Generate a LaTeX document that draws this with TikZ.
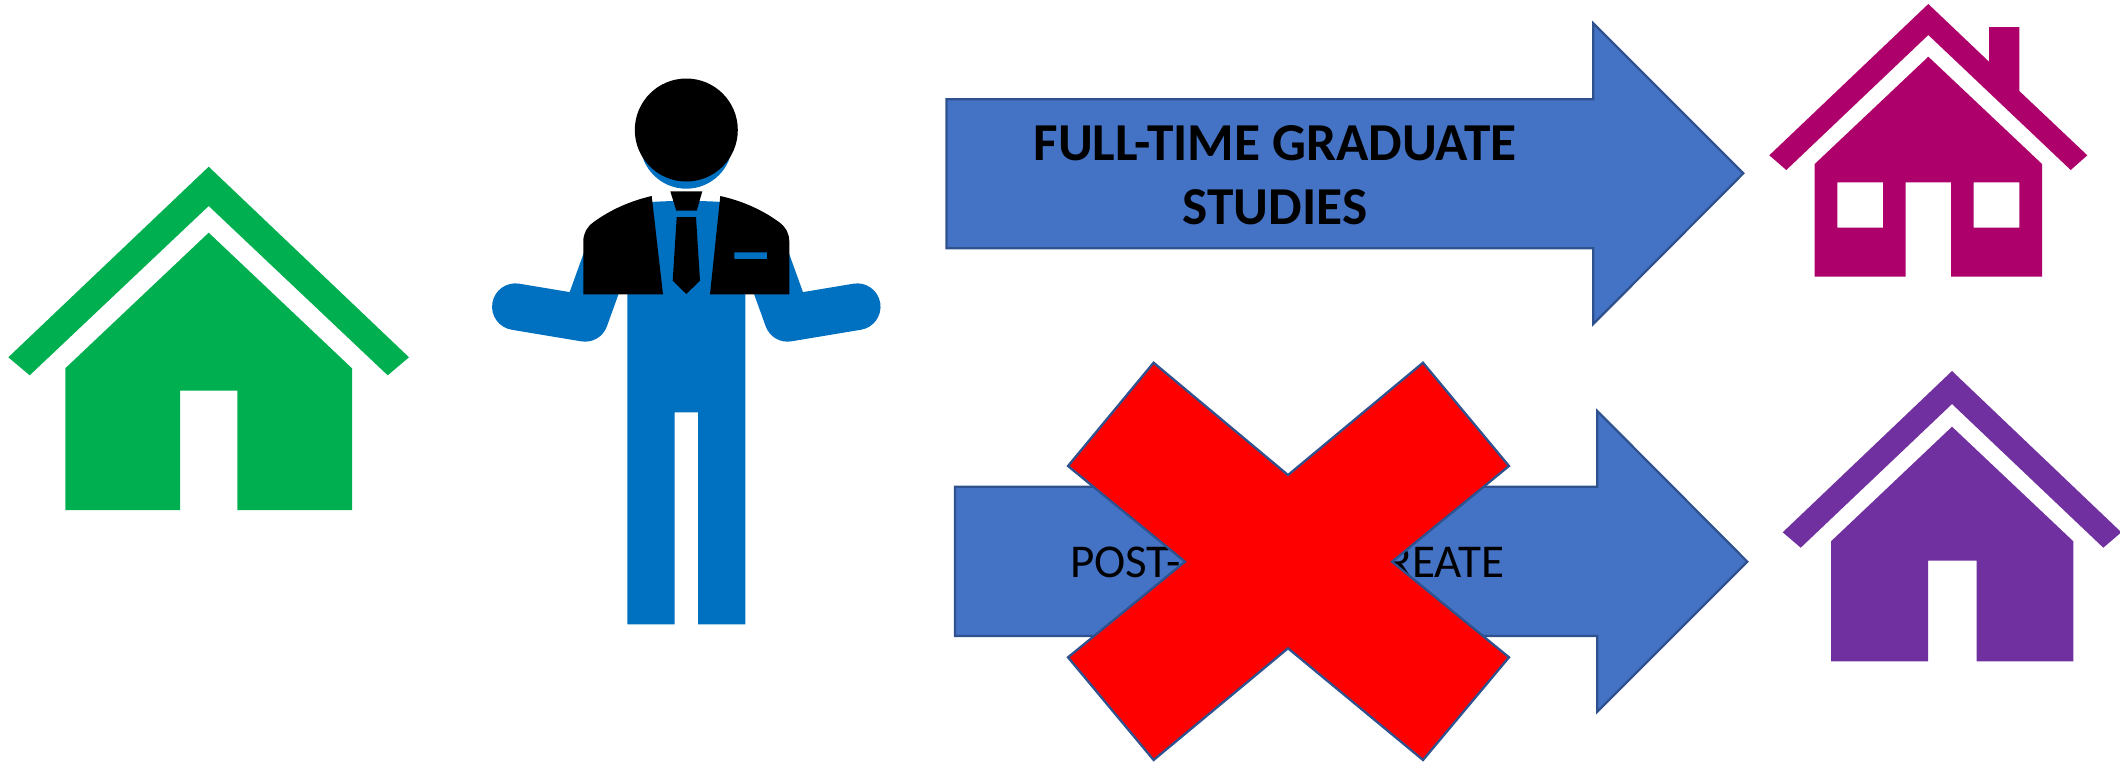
\documentclass[tikz,border=0pt]{standalone}
\usepackage{fontspec}
\setmainfont{Carlito}
\definecolor{houseGreen}{HTML}{00B050}
\definecolor{houseMagenta}{HTML}{AE006B}
\definecolor{housePurple}{HTML}{7030A0}
\definecolor{manBlue}{HTML}{0070C0}
\definecolor{arrowFill}{HTML}{4472C4}
\definecolor{arrowLine}{HTML}{2F528F}
\tikzset{
  greenpart/.style={fill=houseGreen},
  magentapart/.style={fill=houseMagenta,even odd rule},
  purplepart/.style={fill=housePurple},
  bluepart/.style={fill=manBlue},
  limb/.style={draw=manBlue,line width=35pt,line cap=round,line join=round},
  blackpart/.style={fill=black},
  bigarrow/.style={fill=arrowFill,draw=arrowLine,line width=1.7pt,line join=miter},
  crossmark/.style={fill=red,draw=arrowLine,line width=1.7pt,line join=miter},
  boldlabel/.style={font=\fontsize{40}{48}\selectfont\bfseries,align=center,text=black,inner sep=0pt},
  plainlabel/.style={font=\fontsize{35.3}{42}\selectfont,text=black,inner sep=0pt,anchor=base}
}
\begin{document}
\begin{tikzpicture}[x=0.75pt,y=-0.75pt]
\useasboundingbox (0,0) rectangle (2120,761);
% green house
\fill[greenpart] (208.7,166.7) -- (409,357.3) -- (387.7,375.3) -- (208.7,206) -- (29.7,375.3) -- (8.3,357.3) -- cycle;
\fill[greenpart] (208.7,232.7) -- (352,368.3) -- (352,510) -- (237.3,510) -- (237.3,390.7) -- (180,390.7) -- (180,510) -- (65.3,510) -- (65.3,368.3) -- cycle;
% man
\draw[limb] (515.4,306.7) -- (585,318.3) -- (610,249);
\draw[limb] (857.2,306.7) -- (787.6,318.3) -- (762.6,249);
\fill[bluepart] (627.3,624.3) -- (627.3,230) -- (651,202) .. controls (675,200.5) and (698,200.5) .. (722,202) -- (745.3,230) -- (745.3,624.3) -- (698,624.3) -- (698,412.3) -- (674.7,412.3) -- (674.7,624.3) -- cycle;
\fill[bluepart] (686.3,142.7) circle[radius=46];
\fill[blackpart] (686.3,130) circle[radius=51.5];
\fill[blackpart] (651.7,196) -- (663,294.3) -- (583.3,294.3) -- (583.3,241.7) .. controls (583.3,233) and (587,227) .. (593.3,222.3) .. controls (610,210) and (630,201) .. (651.7,196) -- cycle;
\fill[blackpart,even odd rule] (720.3,196) -- (710,294.3) -- (789.3,294.3) -- (789.3,241.7) .. controls (789.3,233) and (785.6,227) .. (779.3,222.3) .. controls (762.6,210) and (742.6,201) .. (720.3,196) -- cycle
  (734.3,252.3) rectangle (767,259);
\fill[blackpart] (670.3,191.3) -- (702.3,191.3) -- (696.7,210.7) -- (676.3,210.7) -- cycle;
\fill[blackpart] (676.7,217) -- (696,217) -- (700,280.7) -- (686.3,294) -- (672.7,280.7) -- cycle;
% arrows
\draw[bigarrow] (946.5,99.3) -- (1593.3,99.3) -- (1593.3,23.3) -- (1743.3,173.3) -- (1593.3,324) -- (1593.3,248.3) -- (946.5,248.3) -- cycle;
\node[boldlabel] (fulltime) at (1275,175) {FULL-TIME GRADUATE\\STUDIES};
\draw[bigarrow] (955,486.7) -- (1597.3,486.7) -- (1597.3,411) -- (1747.3,561.7) -- (1597.3,711.7) -- (1597.3,636) -- (955,636) -- cycle;
\node[plainlabel] (postlabel) at (1287,577.3) {POST-BACCALAUREATE};
% cross
\draw[crossmark] (1153.6,362.7) -- (1288,475) -- (1423,362.7) -- (1509,466) -- (1392,561.7) -- (1509,657.3) -- (1423,760) -- (1288,648.3) -- (1153.6,760) -- (1068,657.3) -- (1185,561.7) -- (1068,466) -- cycle;
% magenta house
\fill[magentapart] (1928.3,4) -- (1989,61.7) -- (1989,27) -- (2019.3,27) -- (2019.3,91) -- (2087.3,155.3) -- (2070.7,170) -- (1928.3,35) -- (1786.3,170) -- (1769.3,155.3) -- cycle;
\fill[magentapart] (1928.3,56.7) -- (2042,164) -- (2042,276.7) -- (1951,276.7) -- (1951,182.3) -- (1905.7,182.3) -- (1905.7,276.7) -- (1814.7,276.7) -- (1814.7,164) -- cycle
  (1837.3,182.3) rectangle (1883,227.7)
  (1973.7,182.3) rectangle (2019.3,227.7);
% purple house
\fill[purplepart] (1952,371) -- (2121.3,532.3) -- (2103.3,547.7) -- (1952,404) -- (1800.7,547.7) -- (1782.7,532.3) -- cycle;
\fill[purplepart] (1952,426.7) -- (2073.3,541.3) -- (2073.3,661.3) -- (1976.7,661.3) -- (1976.7,560.7) -- (1928,560.7) -- (1928,661.3) -- (1831,661.3) -- (1831,541.3) -- cycle;
\end{tikzpicture}
\end{document}
